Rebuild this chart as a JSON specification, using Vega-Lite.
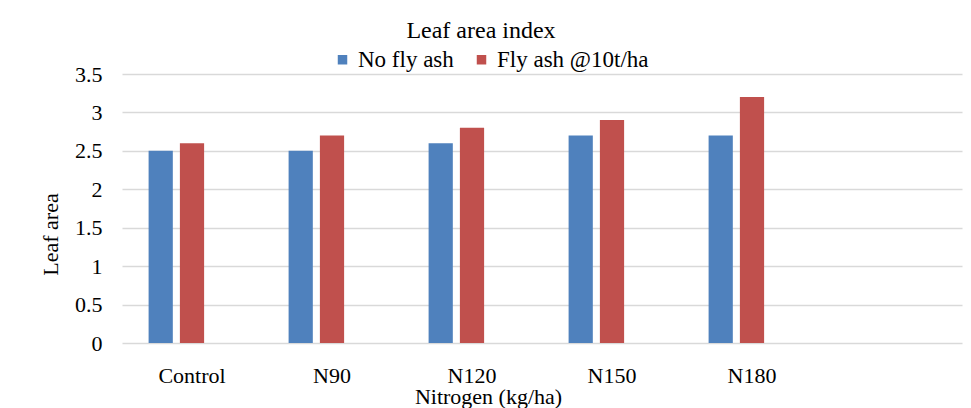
{
  "$schema": "https://vega.github.io/schema/vega-lite/v6.json",
  "width": 840,
  "height": 269,
  "autosize": {"type": "none"},
  "padding": {"left": 122, "top": 74, "right": 9, "bottom": 65},
  "background": "white",
  "title": {"text": "Leaf area index", "dx": -61, "offset": 5, "font": "Liberation Serif", "fontSize": 24},
  "data": {"values": [
    {"n": "Control", "s": "No fly ash", "v": 2.5},
    {"n": "Control", "s": "Fly ash @10t/ha", "v": 2.6},
    {"n": "N90", "s": "No fly ash", "v": 2.5},
    {"n": "N90", "s": "Fly ash @10t/ha", "v": 2.7},
    {"n": "N120", "s": "No fly ash", "v": 2.6},
    {"n": "N120", "s": "Fly ash @10t/ha", "v": 2.8},
    {"n": "N150", "s": "No fly ash", "v": 2.7},
    {"n": "N150", "s": "Fly ash @10t/ha", "v": 2.9},
    {"n": "N180", "s": "No fly ash", "v": 2.7},
    {"n": "N180", "s": "Fly ash @10t/ha", "v": 3.2}
  ]},
  "mark": {"type": "bar"},
  "encoding": {
    "x": {
      "field": "n", "type": "nominal",
      "scale": {"domain": ["Control", "N90", "N120", "N150", "N180", "-"], "paddingInner": 0.38, "paddingOuter": 0.19},
      "axis": {"title": "Nitrogen (kg/ha)", "labelAngle": 0, "labelExpr": "datum.value == '-' ? '' : datum.value", "ticks": false, "domain": false, "labelPadding": 22, "labelFontSize": 22, "titleFontSize": 22, "titleFontWeight": "normal", "titleX": 366, "titleY": 53, "titleBaseline": "middle", "titleAlign": "center"}
    },
    "xOffset": {
      "field": "s", "type": "nominal",
      "scale": {"domain": ["No fly ash", "Fly ash @10t/ha", "_"], "paddingInner": 0.226, "paddingOuter": 0}
    },
    "y": {
      "field": "v", "type": "quantitative",
      "scale": {"domain": [0, 3.5], "nice": false},
      "axis": {"title": "Leaf area", "values": [0, 0.5, 1, 1.5, 2, 2.5, 3, 3.5], "labelExpr": "datum.value", "ticks": false, "domain": false, "labelPadding": 20, "labelFontSize": 22, "titleFontSize": 22, "titleFontWeight": "normal", "gridColor": "#d9d9d9", "gridWidth": 1.3, "titleX": -72, "titleY": 160, "titleBaseline": "middle", "titleAlign": "center"}
    },
    "color": {
      "field": "s", "type": "nominal",
      "scale": {"domain": ["No fly ash", "Fly ash @10t/ha"], "range": ["#4f81bd", "#c0504d"]},
      "legend": {"title": null, "orient": "none", "direction": "horizontal", "legendX": 209, "legendY": -26, "symbolType": "square", "symbolSize": 90, "symbolStrokeWidth": 0, "labelFont": "Liberation Serif", "labelFontSize": 23, "labelOffset": 4, "columnPadding": 16, "labelColor": "black"}
    }
  },
  "config": {
    "font": "Liberation Serif",
    "view": {"stroke": null},
    "title": {"fontWeight": "normal", "color": "black", "anchor": "middle"},
    "axis": {"labelColor": "black", "titleColor": "black", "labelFont": "Liberation Serif", "titleFont": "Liberation Serif"},
    "axisX": {"grid": false}
  }
}
